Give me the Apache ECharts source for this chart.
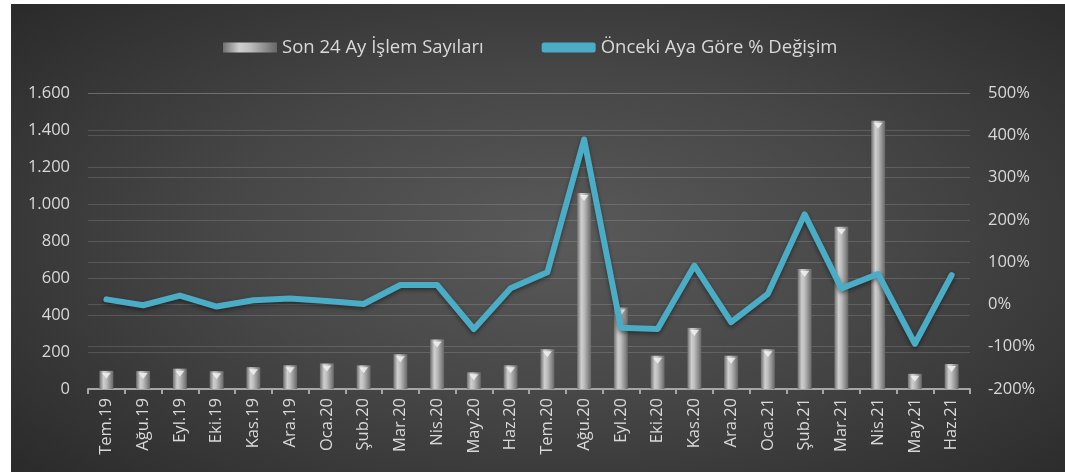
<!DOCTYPE html>
<html><head><meta charset="utf-8">
<script src="https://cdn.jsdelivr.net/npm/echarts@6/dist/echarts.min.js"></script>
<style>
html,body{margin:0;padding:0;background:#fff;width:1065px;height:472px;overflow:hidden}
#bg{position:absolute;left:11px;top:4px;width:1054px;height:468px;
background:radial-gradient(ellipse 70% 75% at 52% 50%, #5a5a5a 0%, #474747 45%, #2a2a2a 100%);}
#c{position:absolute;left:0;top:0;width:1065px;height:472px}
</style></head>
<body><div id="bg"></div><div id="c"></div>
<script>
const categories = ["Tem.19","Ağu.19","Eyl.19","Eki.19","Kas.19","Ara.19","Oca.20","Şub.20","Mar.20","Nis.20","May.20","Haz.20","Tem.20","Ağu.20","Eyl.20","Eki.20","Kas.20","Ara.20","Oca.21","Şub.21","Mar.21","Nis.21","May.21","Haz.21"];
const islemSayilari = [98,97,110,96,118,128,138,128,188,268,90,128,215,1060,440,180,330,180,215,648,877,1450,82,135];
const degisimYuzde = [12,-2,21,-5,10,14,8,1,46,46,-58,38,76,390,-55,-58,92,-42,25,213,38,72,-93,69];
const leftTicks = {min:0,max:1600,interval:200};
const rightTicks = {min:-200,max:500,interval:100};
const barName = "Son 24 Ay İşlem Sayıları";
const lineName = "Önceki Aya Göre % Değişim";

const txt = '#d9d9d9';
const font = "'Open Sans', 'Liberation Sans', sans-serif";
const chart = echarts.init(document.getElementById('c'), null, {renderer:'canvas'});
const barGrad = new echarts.graphic.LinearGradient(0,0,1,0,[
  {offset:0,color:'#6f6f6f'},{offset:0.3,color:'#cfcfcf'},{offset:0.5,color:'#bdbdbd'},{offset:0.8,color:'#8a8a8a'},{offset:1,color:'#666666'}]);
chart.setOption({
  animation:false,
  backgroundColor:'transparent',
  textStyle:{fontFamily:font},
  legend:{
    left:218, top:33, itemGap:58, itemWidth:54, itemHeight:10,
    textStyle:{color:txt,fontSize:18.5,fontFamily:font},
    data:[
      {name:barName, icon:'rect'},
      {name:lineName, icon:'roundRect', itemStyle:{color:'#4bacc6'}}
    ]
  },
  grid:{left:88,right:95,top:93,bottom:83},
  xAxis:{
    type:'category', data:categories,
    axisLine:{lineStyle:{color:'#a6a6a6',width:2}},
    axisTick:{show:true,length:5,lineStyle:{color:'#a6a6a6',width:2}},
    axisLabel:{rotate:90,color:txt,fontSize:16.5,margin:9,fontFamily:font}
  },
  yAxis:[
    {type:'value',min:leftTicks.min,max:leftTicks.max,interval:leftTicks.interval,
     axisLabel:{color:txt,fontSize:16.5,margin:18,fontFamily:font,
       formatter:v=>v.toString().replace(/\B(?=(\d{3})+(?!\d))/g,'.')},
     axisLine:{show:false},axisTick:{show:false},
     splitLine:{lineStyle:{color:'rgba(255,255,255,0.14)',width:1}}},
    {type:'value',min:rightTicks.min,max:rightTicks.max,interval:rightTicks.interval,
     axisLabel:{color:txt,fontSize:16.5,margin:18,fontFamily:font,formatter:v=>v+'%'},
     axisLine:{show:false},axisTick:{show:false},
     splitLine:{show:true,lineStyle:{color:'rgba(255,255,255,0.14)',width:1}}}
  ],
  series:[
    {name:barName,type:'bar',data:islemSayilari,barWidth:14,yAxisIndex:0,z:2,
     itemStyle:{color:barGrad}},
    {name:'tepe',type:'scatter',data:islemSayilari,yAxisIndex:0,z:3,
     symbol:'triangle',symbolRotate:180,symbolSize:[9,6],symbolOffset:[0,5],
     itemStyle:{color:'#f5f5f5'},silent:true,tooltip:{show:false}},
    {name:lineName,type:'line',data:degisimYuzde,yAxisIndex:1,z:5,
     symbol:'none',
     lineStyle:{color:'#4bacc6',width:6,cap:'round',join:'round',
       shadowColor:'rgba(0,0,0,0.45)',shadowBlur:4,shadowOffsetY:2},
     itemStyle:{color:'#4bacc6'}}
  ]
});
</script></body></html>
